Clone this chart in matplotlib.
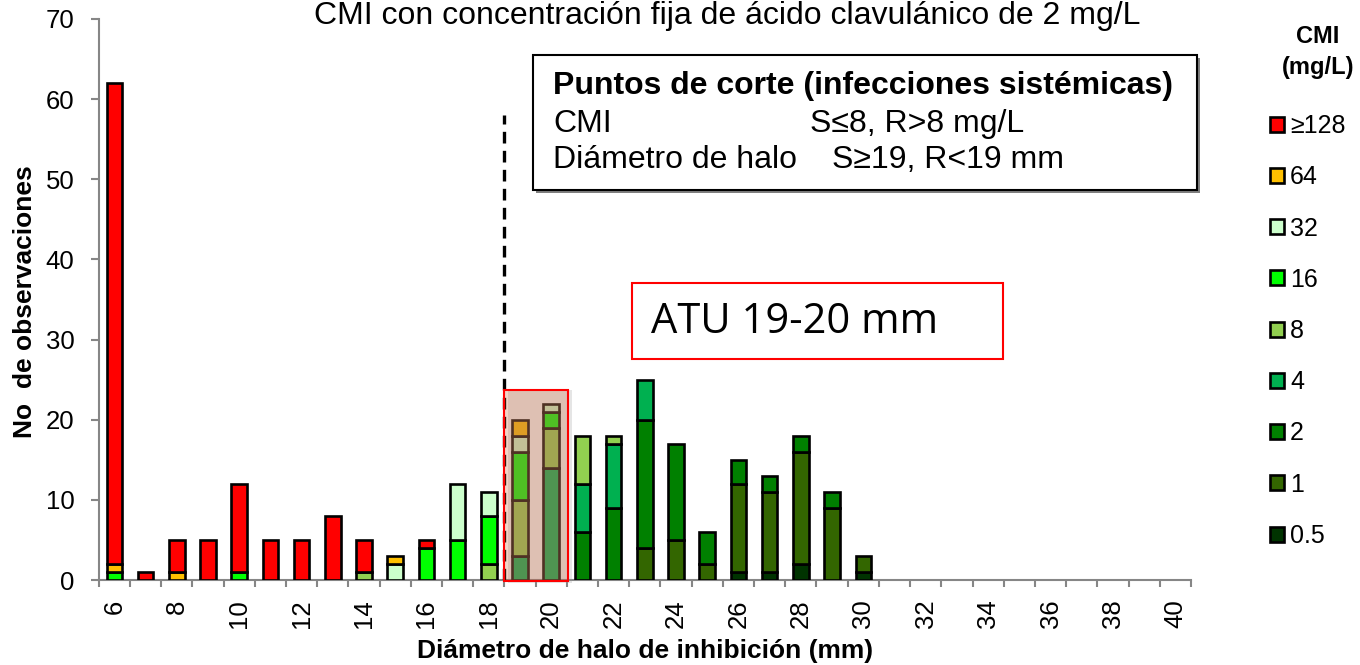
import numpy as np
import matplotlib
matplotlib.use("Agg")
from matplotlib import pyplot as plt
from matplotlib.patches import Rectangle

# halo diameters (mm)
diametros = list(range(6, 41))

# counts per CMI class, one value per diameter 6..40
cmi_05 = [0, 0, 0, 0, 0, 0, 0, 0, 0, 0, 0, 0, 0, 0, 0, 0, 0, 0, 0, 0, 1, 1, 2, 0, 1, 0, 0, 0, 0, 0, 0, 0, 0, 0, 0]
cmi_1 = [0, 0, 0, 0, 0, 0, 0, 0, 0, 0, 0, 0, 0, 0, 0, 0, 0, 4, 5, 2, 11, 10, 14, 9, 2, 0, 0, 0, 0, 0, 0, 0, 0, 0, 0]
cmi_2 = [0, 0, 0, 0, 0, 0, 0, 0, 0, 0, 0, 0, 0, 0, 0, 6, 9, 16, 12, 4, 3, 2, 2, 2, 0, 0, 0, 0, 0, 0, 0, 0, 0, 0, 0]
cmi_4 = [0, 0, 0, 0, 0, 0, 0, 0, 0, 0, 0, 0, 0, 3, 14, 6, 8, 5, 0, 0, 0, 0, 0, 0, 0, 0, 0, 0, 0, 0, 0, 0, 0, 0, 0]
cmi_8 = [0, 0, 0, 0, 0, 0, 0, 0, 1, 0, 0, 0, 2, 7, 5, 6, 1, 0, 0, 0, 0, 0, 0, 0, 0, 0, 0, 0, 0, 0, 0, 0, 0, 0, 0]
cmi_16 = [1, 0, 0, 0, 1, 0, 0, 0, 0, 0, 4, 5, 6, 6, 2, 0, 0, 0, 0, 0, 0, 0, 0, 0, 0, 0, 0, 0, 0, 0, 0, 0, 0, 0, 0]
cmi_32 = [0, 0, 0, 0, 0, 0, 0, 0, 0, 2, 0, 7, 3, 2, 1, 0, 0, 0, 0, 0, 0, 0, 0, 0, 0, 0, 0, 0, 0, 0, 0, 0, 0, 0, 0]
cmi_64 = [1, 0, 1, 0, 0, 0, 0, 0, 0, 1, 0, 0, 0, 2, 0, 0, 0, 0, 0, 0, 0, 0, 0, 0, 0, 0, 0, 0, 0, 0, 0, 0, 0, 0, 0]
cmi_128 = [60, 1, 4, 5, 11, 5, 5, 8, 4, 0, 1, 0, 0, 0, 0, 0, 0, 0, 0, 0, 0, 0, 0, 0, 0, 0, 0, 0, 0, 0, 0, 0, 0, 0, 0]

series = [cmi_05, cmi_1, cmi_2, cmi_4, cmi_8, cmi_16, cmi_32, cmi_64, cmi_128]
etiquetas = ["0.5", "1", "2", "4", "8", "16", "32", "64", "≥128"]
colores = ["#003300", "#336600", "#008000", "#00B050", "#92D050",
           "#00FF00", "#CCFFCC", "#FFC000", "#FF0000"]

W, H = 1360, 665


def fx(px):
    return px / W


def fy(py):
    return 1 - py / H


plt.rcParams['font.family'] = ['Liberation Sans', 'DejaVu Sans']

fig = plt.figure(figsize=(13.6, 6.65), dpi=100)
ax = fig.add_axes([fx(98.7), fy(580), fx(1191) - fx(98.7), fy(19) - fy(580)])

x = np.array(diametros)
bottom = np.zeros(len(x))
handles = []
for vals, lab, col in zip(series, etiquetas, colores):
    v = np.array(vals)
    m = v > 0
    b = ax.bar(x[m], v[m], width=0.5, bottom=bottom[m], color=col, edgecolor="black",
               linewidth=1.9, label=lab, zorder=3)
    handles.append(b)
    bottom += v

ax.set_xlim(5.5, 40.5)
ax.set_ylim(0, 70)

for s in ["top", "right"]:
    ax.spines[s].set_visible(False)
for s in ["left", "bottom"]:
    ax.spines[s].set_color("#868686")
    ax.spines[s].set_linewidth(1.5)

ax.set_yticks(range(0, 71, 10))
ax.tick_params(axis="y", direction="out", length=5.5, width=1.5, color="#868686",
               labelsize=18.5, pad=12)
ax.set_xticks(range(6, 41, 2))
ax.set_xticklabels([str(v) for v in range(6, 41, 2)], rotation=90)
ax.set_xticks(np.arange(5.5, 41, 1), minor=True)
ax.tick_params(axis="x", which="major", length=0, labelsize=18.5, pad=14)
ax.tick_params(axis="x", which="minor", direction="out", length=5, width=1.5,
               color="#868686")

ax.set_xlabel("Diámetro de halo de inhibición (mm)", fontsize=19, fontweight="bold")
ax.set_ylabel("No  de observaciones", fontsize=19, fontweight="bold")
ax.xaxis.set_label_coords((645 - 98.7) / 1092.3, (580 - 639) / 561)
ax.yaxis.set_label_coords((37 - 98.7) / 1092.3, (580 - 302) / 561)

# breakpoint line
ax.plot([18.5, 18.5], [0, 58], color="black", linewidth=2.4, dashes=(3.5, 2.2), zorder=4)

# highlighted ATU zone
ax.add_patch(Rectangle((18.62, -0.35), 2.05, 24.0, facecolor="#999999", alpha=0.25,
                       edgecolor="none", zorder=4, clip_on=False))
ax.add_patch(Rectangle((18.5, -0.1), 2.05, 23.8, facecolor=(0.80, 0.33, 0.13, 0.25),
                       edgecolor="#FF0000", linewidth=1.5, zorder=5, clip_on=False))

fig.text(fx(727), fy(16), "CMI con concentración fija de ácido clavulánico de 2 mg/L",
         fontsize=23, ha="center", va="center")

# breakpoints box
fig.patches.append(Rectangle((fx(536), fy(193)), fx(1197) - fx(533), fy(55) - fy(190),
                             transform=fig.transFigure, facecolor="#7F7F7F",
                             edgecolor="none", zorder=1))
fig.patches.append(Rectangle((fx(533), fy(190)), fx(1197) - fx(533), fy(55) - fy(190),
                             transform=fig.transFigure, facecolor="white",
                             edgecolor="black", linewidth=1.5, zorder=2))
fig.text(fx(553), fy(86), "Puntos de corte (infecciones sistémicas)", fontsize=23,
         fontweight="bold", va="center")
fig.text(fx(553), fy(124), "CMI", fontsize=23, va="center")
fig.text(fx(810), fy(124), "S≤8, R>8 mg/L", fontsize=23, va="center")
fig.text(fx(553), fy(160), "Diámetro de halo", fontsize=23, va="center")
fig.text(fx(832), fy(160), "S≥19, R<19 mm", fontsize=23, va="center")

# ATU box
fig.patches.append(Rectangle((fx(632), fy(359)), fx(1003) - fx(632), fy(283) - fy(359),
                             transform=fig.transFigure, facecolor="white",
                             edgecolor="#FF0000", linewidth=1.5, zorder=2))
fig.text(fx(651), fy(322), "ATU 19-20 mm", fontsize=30, family=['Open Sans', 'DejaVu Sans'],
         va="center")

# legend
fig.text(fx(1318), fy(52), "CMI\n(mg/L)", fontsize=17, fontweight="bold", ha="center",
         va="center", linespacing=1.45)
ax.legend(handles=handles[::-1], loc="upper left", bbox_to_anchor=(fx(1270), fy(114)),
          bbox_transform=fig.transFigure, frameon=False, fontsize=18,
          handlelength=0.55, handleheight=0.55, handletextpad=0.25,
          labelspacing=1.09, borderaxespad=0, borderpad=0)

fig.savefig("out.png", dpi=100)
